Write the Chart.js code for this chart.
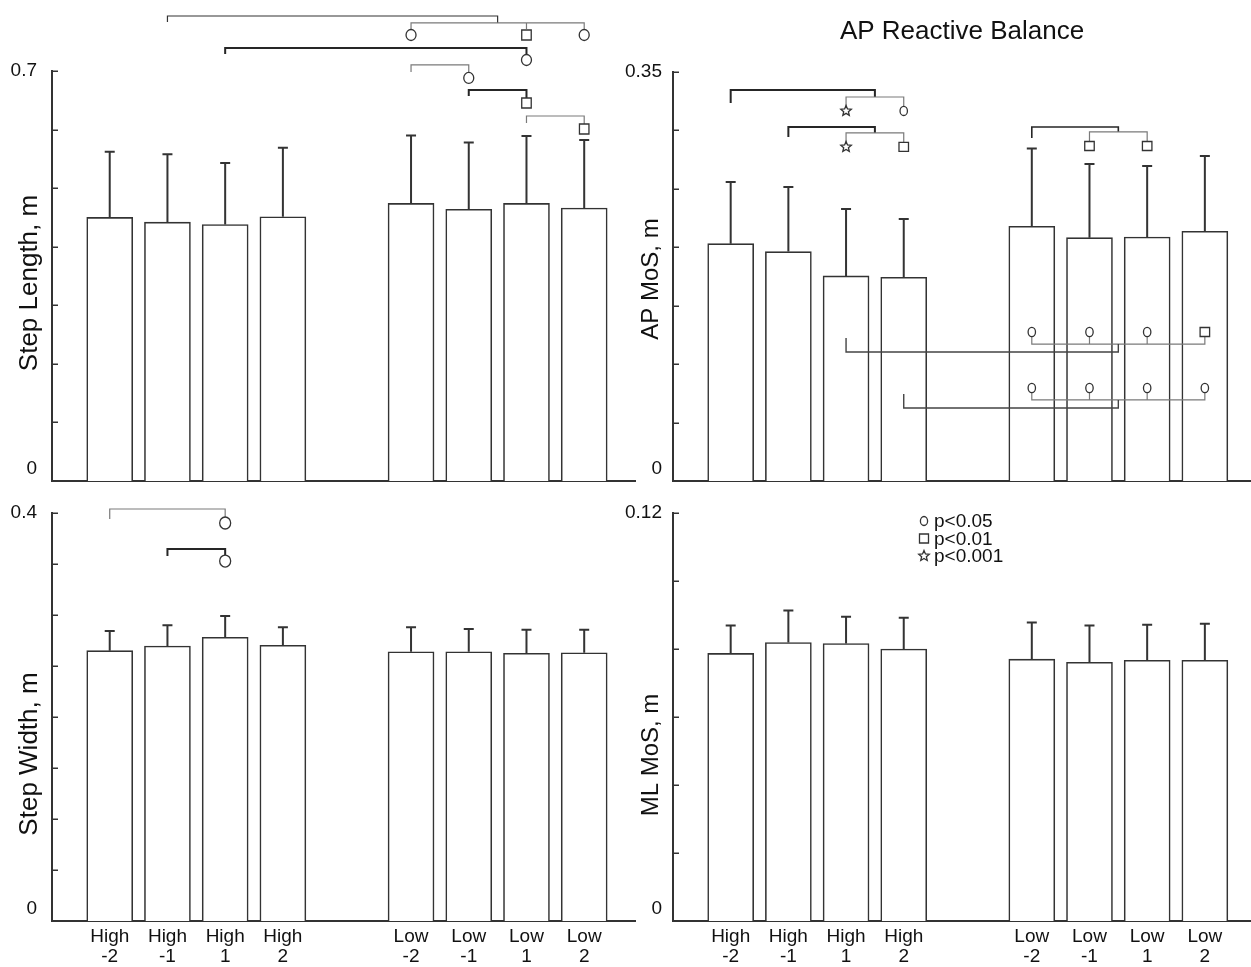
<!DOCTYPE html>
<html><head><meta charset="utf-8">
<script src="https://cdn.jsdelivr.net/npm/chart.js@4.4.1/dist/chart.umd.min.js"></script>
<style>
html,body{margin:0;padding:0;background:#fff;overflow:hidden;width:1251px;height:967px;}
canvas{position:absolute;left:0;top:0;}
</style></head><body>
<canvas id="cTL" width="1251" height="980"></canvas>
<canvas id="cTR" width="1251" height="980"></canvas>
<canvas id="cBL" width="1251" height="980"></canvas>
<canvas id="cBR" width="1251" height="980"></canvas>
<script>
// ---------- DATA ----------
const categories = [['High','-2'],['High','-1'],['High','1'],['High','2'],['Low','-2'],['Low','-1'],['Low','1'],['Low','2']];

const stepLengthMean = [0.450, 0.442, 0.438, 0.451, 0.474, 0.464, 0.474, 0.466];
const stepLengthSD   = [0.112, 0.116, 0.105, 0.118, 0.116, 0.114, 0.115, 0.116];

const apMosMean = [0.2029, 0.1961, 0.1753, 0.1742, 0.2178, 0.2080, 0.2086, 0.2135];
const apMosSD   = [0.0528, 0.0553, 0.0573, 0.0498, 0.0664, 0.0631, 0.0607, 0.0644];

const stepWidthMean = [0.265, 0.2696, 0.2781, 0.2703, 0.264, 0.264, 0.2624, 0.263];
const stepWidthSD   = [0.0193, 0.0204, 0.0209, 0.0177, 0.024, 0.0223, 0.0232, 0.0226];

const mlMosMean = [0.0787, 0.0819, 0.0816, 0.0800, 0.0770, 0.0761, 0.0767, 0.0767];
const mlMosSD   = [0.0082, 0.0094, 0.0079, 0.0092, 0.0108, 0.0108, 0.0104, 0.0107];

const stepLengthTicks = [0, 0.1, 0.2, 0.3, 0.4, 0.5, 0.6, 0.7];
const apMosTicks      = [0, 0.05, 0.1, 0.15, 0.2, 0.25, 0.3, 0.35];
const stepWidthTicks  = [0, 0.05, 0.1, 0.15, 0.2, 0.25, 0.3, 0.35, 0.4];
const mlMosTicks      = [0, 0.02, 0.04, 0.06, 0.08, 0.1, 0.12];

const stepLengthTickLabels = [[0,'0'],[0.7,'0.7']];
const apMosTickLabels      = [[0,'0'],[0.35,'0.35']];
const stepWidthTickLabels  = [[0,'0'],[0.4,'0.4']];
const mlMosTickLabels      = [[0,'0'],[0.12,'0.12']];

// significance brackets: points are [category index (fractional = between), value]
const DARK = '#262626', GRAY = '#7a7a7a';
const stepLengthBrackets = [
  {c:'#333', w:1.2, pts:[[1,0.7837],[1,0.7939],[5.5,0.7939],[5.5,0.782]]},
  {c:GRAY, w:1.2, pts:[[4,0.7717],[4,0.782],[7,0.782],[7,0.7717]]},
  {c:GRAY, w:1.2, pts:[[6,0.782],[6,0.7717]]},
  {c:DARK, w:2, pts:[[2,0.729],[2,0.7393],[6,0.7393],[6,0.7188]]},
  {c:GRAY, w:1.2, pts:[[4,0.6983],[4,0.7103],[5,0.7103],[5,0.6881]]},
  {c:DARK, w:2, pts:[[5,0.6574],[5,0.6676],[6,0.6676],[6,0.6454]]},
  {c:GRAY, w:1.2, pts:[[6,0.6112],[6,0.6232],[7,0.6232],[7,0.601]]}
];
const stepLengthMarks = [['o',4,0.7615],['s',6,0.7615],['o',7,0.7615],['o',6,0.7188],['o',5,0.6881],['s',6,0.6454],['s',7,0.601]];

const apMosBrackets = [
  {c:DARK, w:2, pts:[[0,0.3232],[0,0.3343],[2.5,0.3343],[2.5,0.3283]]},
  {c:GRAY, w:1.2, pts:[[2,0.3164],[2,0.3283],[3,0.3283],[3,0.3164]]},
  {c:DARK, w:2, pts:[[1,0.2941],[1,0.3027],[2.5,0.3027],[2.5,0.2976]]},
  {c:GRAY, w:1.2, pts:[[2,0.2856],[2,0.2976],[3,0.2976],[3,0.2856]]},
  {c:DARK, w:1.6, pts:[[4,0.2933],[4,0.3027],[5.5,0.3027],[5.5,0.2984]]},
  {c:GRAY, w:1.2, pts:[[5,0.2864],[5,0.2984],[6,0.2984],[6,0.2864]]},
  {c:GRAY, w:1.2, pts:[[4,0.1274],[4,0.1171],[7,0.1171],[7,0.1274]]},
  {c:GRAY, w:1.2, pts:[[5,0.1171],[5,0.1274]]},
  {c:GRAY, w:1.2, pts:[[6,0.1171],[6,0.1274]]},
  {c:'#444', w:1.4, pts:[[2,0.1223],[2,0.1103],[5.5,0.1103],[5.5,0.1171]]},
  {c:GRAY, w:1.2, pts:[[4,0.0795],[4,0.0693],[7,0.0693],[7,0.0795]]},
  {c:GRAY, w:1.2, pts:[[5,0.0693],[5,0.0795]]},
  {c:GRAY, w:1.2, pts:[[6,0.0693],[6,0.0795]]},
  {c:'#444', w:1.4, pts:[[3,0.0744],[3,0.0624],[5.5,0.0624],[5.5,0.0693]]}
];
const apMosMarks = [['*',2,0.3164],['o',3,0.3164],['*',2,0.2856],['s',3,0.2856],['s',5,0.2864],['s',6,0.2864],
  ['o',4,0.1274],['o',5,0.1274],['o',6,0.1274],['s',7,0.1274],
  ['o',4,0.0795],['o',5,0.0795],['o',6,0.0795],['o',7,0.0795]];

const stepWidthBrackets = [
  {c:GRAY, w:1.2, pts:[[0,0.3941],[0,0.4039],[2,0.4039],[2,0.3902]]},
  {c:DARK, w:2, pts:[[1,0.3578],[1,0.3647],[2,0.3647],[2,0.3529]]}
];
const stepWidthMarks = [['o',2,0.3902],['o',2,0.3529]];

const legendItems = [['o','p<0.05'],['s','p<0.01'],['*','p<0.001']];

// ---------- LAYOUT / RENDER ----------
const FONT = "'Liberation Sans', Arial, Helvetica, sans-serif";
Chart.defaults.font.family = FONT;
const GAP = 1.22; // extra spacing between the High and Low groups (in category units)
function pos(i) { return i < 4 ? i + 1 : i + 1 + GAP; }
function posF(f) {
  const i = Math.floor(f), fr = f - i;
  return fr === 0 ? pos(i) : pos(i) + fr * (pos(i + 1) - pos(i));
}

function drawMarker(ctx, type, x, y, sz) {
  ctx.save();
  ctx.fillStyle = '#fff'; ctx.strokeStyle = '#333'; ctx.lineWidth = 1.3;
  ctx.beginPath();
  if (type === 'o') {
    ctx.ellipse(x, y, sz.rx, sz.ry, 0, 0, Math.PI * 2);
  } else if (type === 's') {
    ctx.rect(x - sz.sw / 2, y - sz.sh / 2, sz.sw, sz.sh);
  } else {
    const R = sz.r, r = sz.r * 0.45;
    for (let k = 0; k < 10; k++) {
      const a = -Math.PI / 2 + k * Math.PI / 5, rr = k % 2 ? r : R;
      const px = x + rr * Math.cos(a), py = y + rr * Math.sin(a);
      k ? ctx.lineTo(px, py) : ctx.moveTo(px, py);
    }
    ctx.closePath();
  }
  ctx.fill(); ctx.stroke();
  ctx.restore();
}

function annot(cfg) {
  return {
    id: 'annot',
    afterDatasetsDraw(chart) {
      const ctx = chart.ctx, xs = chart.scales.x, ys = chart.scales.y, ca = chart.chartArea;
      ctx.save();
      // error bars
      ctx.strokeStyle = '#333'; ctx.lineWidth = 2;
      cfg.mean.forEach((m, i) => {
        const x = xs.getPixelForValue(pos(i));
        const y0 = ys.getPixelForValue(m), y1 = ys.getPixelForValue(m + cfg.sd[i]);
        ctx.beginPath(); ctx.moveTo(x, y0); ctx.lineTo(x, y1);
        ctx.moveTo(x - 5, y1); ctx.lineTo(x + 5, y1); ctx.stroke();
      });
      // inward y ticks
      ctx.lineWidth = 1.5;
      cfg.yTicks.forEach(t => {
        const y = Math.round(ys.getPixelForValue(t)) + 0.25;
        ctx.beginPath(); ctx.moveTo(ca.left, y); ctx.lineTo(ca.left + 6, y); ctx.stroke();
      });
      // y tick labels
      ctx.fillStyle = '#111'; ctx.font = '19px ' + FONT;
      ctx.textAlign = 'right'; ctx.textBaseline = 'middle';
      cfg.yLabels.forEach(([v, txt]) => {
        let y = ys.getPixelForValue(v); if (v === 0) y -= 12;
        ctx.fillText(txt, ca.left - cfg.labelGap, y);
      });
      // y axis title
      ctx.save();
      ctx.translate(cfg.titleX, cfg.titleY); ctx.rotate(-Math.PI / 2);
      ctx.textAlign = 'center'; ctx.textBaseline = 'middle'; ctx.font = cfg.titleSize + 'px ' + FONT;
      ctx.fillText(cfg.yTitle, 0, 0);
      ctx.restore();
      // brackets
      (cfg.brackets || []).forEach(b => {
        ctx.strokeStyle = b.c; ctx.lineWidth = b.w; ctx.beginPath();
        b.pts.forEach(([f, v], k) => {
          const x = xs.getPixelForValue(posF(f)), y = ys.getPixelForValue(v);
          k ? ctx.lineTo(x, y) : ctx.moveTo(x, y);
        });
        ctx.stroke();
      });
      (cfg.marks || []).forEach(([t, f, v]) => {
        drawMarker(ctx, t, xs.getPixelForValue(posF(f)), ys.getPixelForValue(v), cfg.msize);
      });
      // significance legend
      if (cfg.legend) {
        ctx.font = '19px ' + FONT; ctx.textAlign = 'left'; ctx.textBaseline = 'middle'; ctx.fillStyle = '#111';
        legendItems.forEach(([t, txt], k) => {
          const lx = ca.left + 251, ly = ca.top + 8 + k * 17.5;
          drawMarker(ctx, t, lx, ly, {rx: 3.6, ry: 4.5, sw: 9, sh: 9, r: 5.5});
          ctx.fillText(txt, lx + 10, ly + 1);
        });
      }
      ctx.restore();
    }
  };
}

function makeChart(id, cfg) {
  return new Chart(document.getElementById(id), {
    type: 'bar',
    data: {
      datasets: [{
        data: cfg.mean.map((v, i) => ({x: pos(i), y: v})),
        backgroundColor: '#ffffff', borderColor: '#333', borderWidth: 1.6,
        barThickness: 46, borderSkipped: 'bottom'
      }]
    },
    options: {
      responsive: false, animation: false, devicePixelRatio: 1,
      layout: {padding: cfg.pad},
      events: [],
      plugins: {
        legend: {display: false}, tooltip: {enabled: false},
        title: cfg.title ? {display: true, text: cfg.title, color: '#111',
          font: {family: FONT, size: 26, weight: 'normal', lineHeight: 1.2},
          padding: {top: 16, bottom: 24.4}} : {display: false}
      },
      scales: {
        x: {
          type: 'linear', min: 0, max: cfg.xmax, offset: false,
          grid: {display: false, drawTicks: false, tickLength: 0},
          border: {display: true, color: '#333', width: 2},
          afterBuildTicks: s => { s.ticks = categories.map((c, i) => ({value: pos(i)})); },
          ticks: {
            display: cfg.showX, autoSkip: false, maxRotation: 0, minRotation: 0, padding: 5,
            color: '#111', font: {family: FONT, size: 19, lineHeight: 1.09},
            callback: (v, i) => categories[i]
          }
        },
        y: {
          min: 0, max: cfg.ymax,
          grid: {display: false, drawTicks: false, tickLength: 0},
          border: {display: true, color: '#333', width: 2},
          ticks: {display: false}
        }
      }
    },
    plugins: [annot(cfg)]
  });
}

makeChart('cTL', {
  mean: stepLengthMean, sd: stepLengthSD, ymax: 0.7, yTicks: stepLengthTicks, yLabels: stepLengthTickLabels,
  yTitle: 'Step Length, m', titleX: 30, titleY: 283, titleSize: 26, labelGap: 15, xmax: 10.1, showX: false,
  pad: {left: 52, top: 71, right: 616, bottom: 499},
  brackets: stepLengthBrackets, marks: stepLengthMarks, msize: {rx: 5, ry: 5.5, sw: 9.5, sh: 10, r: 5.5}
});
makeChart('cTR', {
  mean: apMosMean, sd: apMosSD, ymax: 0.35, yTicks: apMosTicks, yLabels: apMosTickLabels,
  yTitle: 'AP MoS, m', titleX: 651, titleY: 279, titleSize: 24, labelGap: 11, xmax: 10.02, showX: false,
  title: 'AP Reactive Balance',
  pad: {left: 673, top: 0, right: 0, bottom: 499},
  brackets: apMosBrackets, marks: apMosMarks, msize: {rx: 3.7, ry: 4.6, sw: 9.5, sh: 9, r: 5.5}
});
makeChart('cBL', {
  mean: stepWidthMean, sd: stepWidthSD, ymax: 0.4, yTicks: stepWidthTicks, yLabels: stepWidthTickLabels,
  yTitle: 'Step Width, m', titleX: 30, titleY: 754, titleSize: 26, labelGap: 15, xmax: 10.1, showX: true,
  pad: {left: 52, top: 513, right: 616, bottom: 7.6},
  brackets: stepWidthBrackets, marks: stepWidthMarks, msize: {rx: 5.5, ry: 6, sw: 10, sh: 10, r: 5.5}
});
makeChart('cBR', {
  mean: mlMosMean, sd: mlMosSD, ymax: 0.12, yTicks: mlMosTicks, yLabels: mlMosTickLabels,
  yTitle: 'ML MoS, m', titleX: 651, titleY: 755, titleSize: 24, labelGap: 11, xmax: 10.02, showX: true,
  pad: {left: 673, top: 513, right: 0, bottom: 7.6},
  legend: true
});
</script>
</body></html>
